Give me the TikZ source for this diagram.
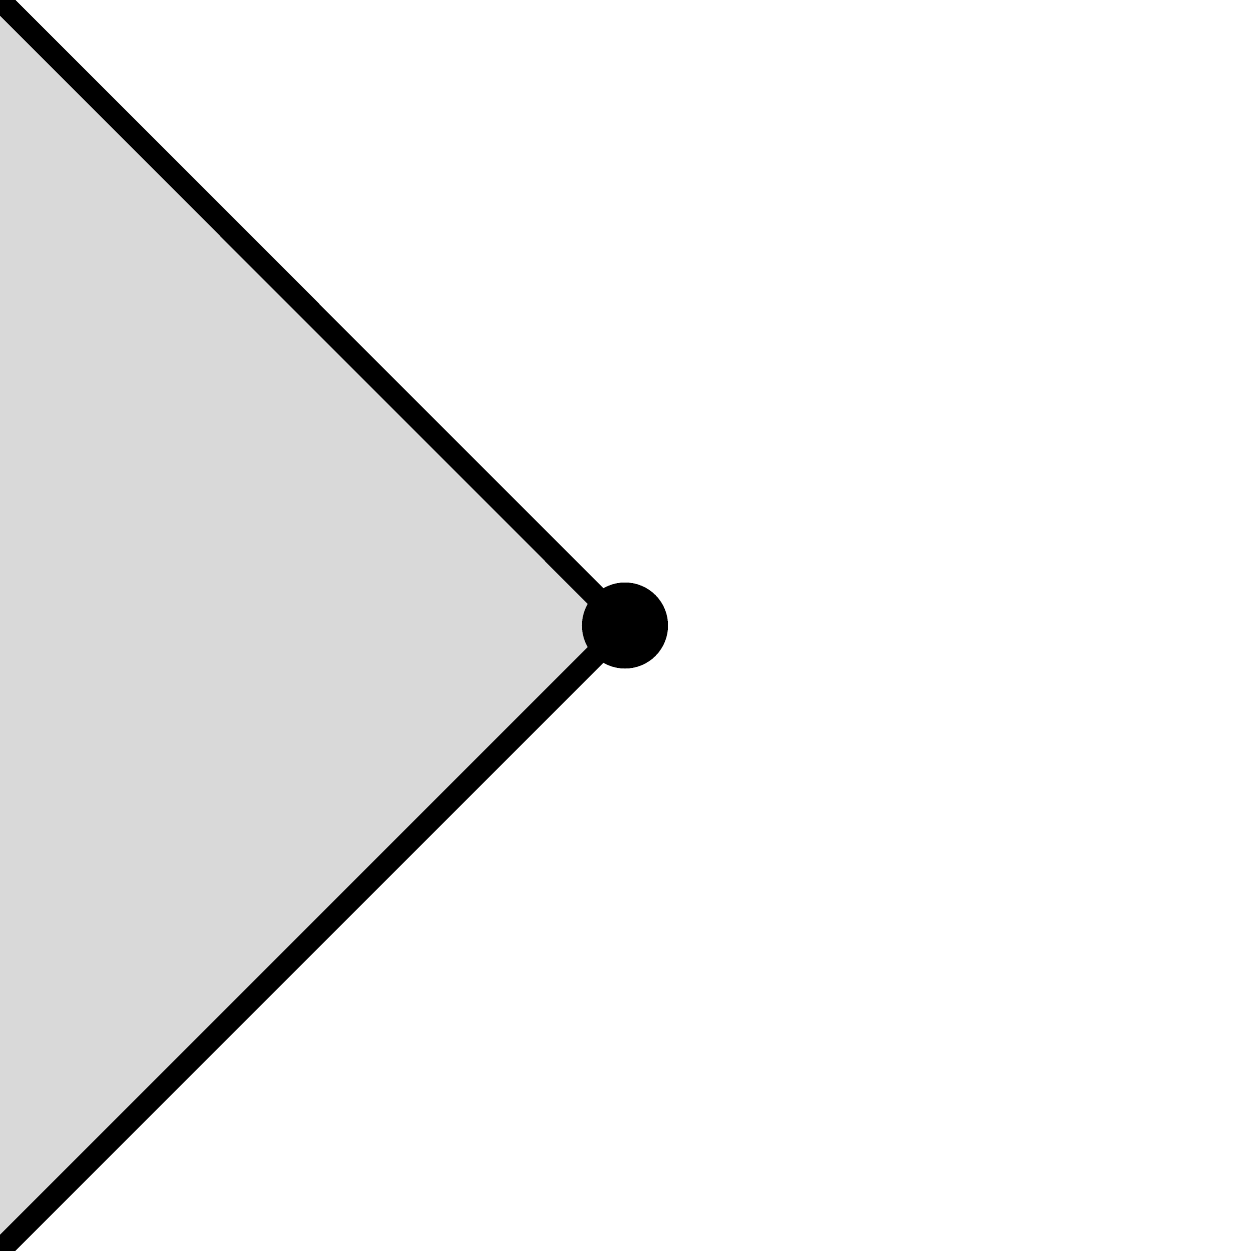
\documentclass[tikz,border=0pt]{standalone}
\usepackage{tikz}
\usetikzlibrary{calc}
\tikzstyle{vertex}=[circle,fill=black,draw=none,minimum size=0.344cm,inner sep=0pt]
\tikzstyle{boundary} = [draw,line width=2.5pt]
\tikzstyle{region} = [fill=black!15]
\begin{document}
\begin{tikzpicture}
    \useasboundingbox (0,0) rectangle (5,5.004);
    \clip (0,0) rectangle (5,5.004);

    \foreach \pos/ \name in {{(-0.1,5.104)/top},{(2.5,2.502)/apex},{(-0.1,-0.098)/bottom}}
        \node[coordinate] (\name) at \pos {};

    % shaded wedge
    \path[region] (top) -- (apex) -- (bottom) -- cycle;

    % edges of the wedge
    \foreach \source/ \dest in {top/apex, apex/bottom}
        \path[boundary] (\source) -- (\dest);

    \node[vertex] (tip) at (apex) {};
\end{tikzpicture}
\end{document}
